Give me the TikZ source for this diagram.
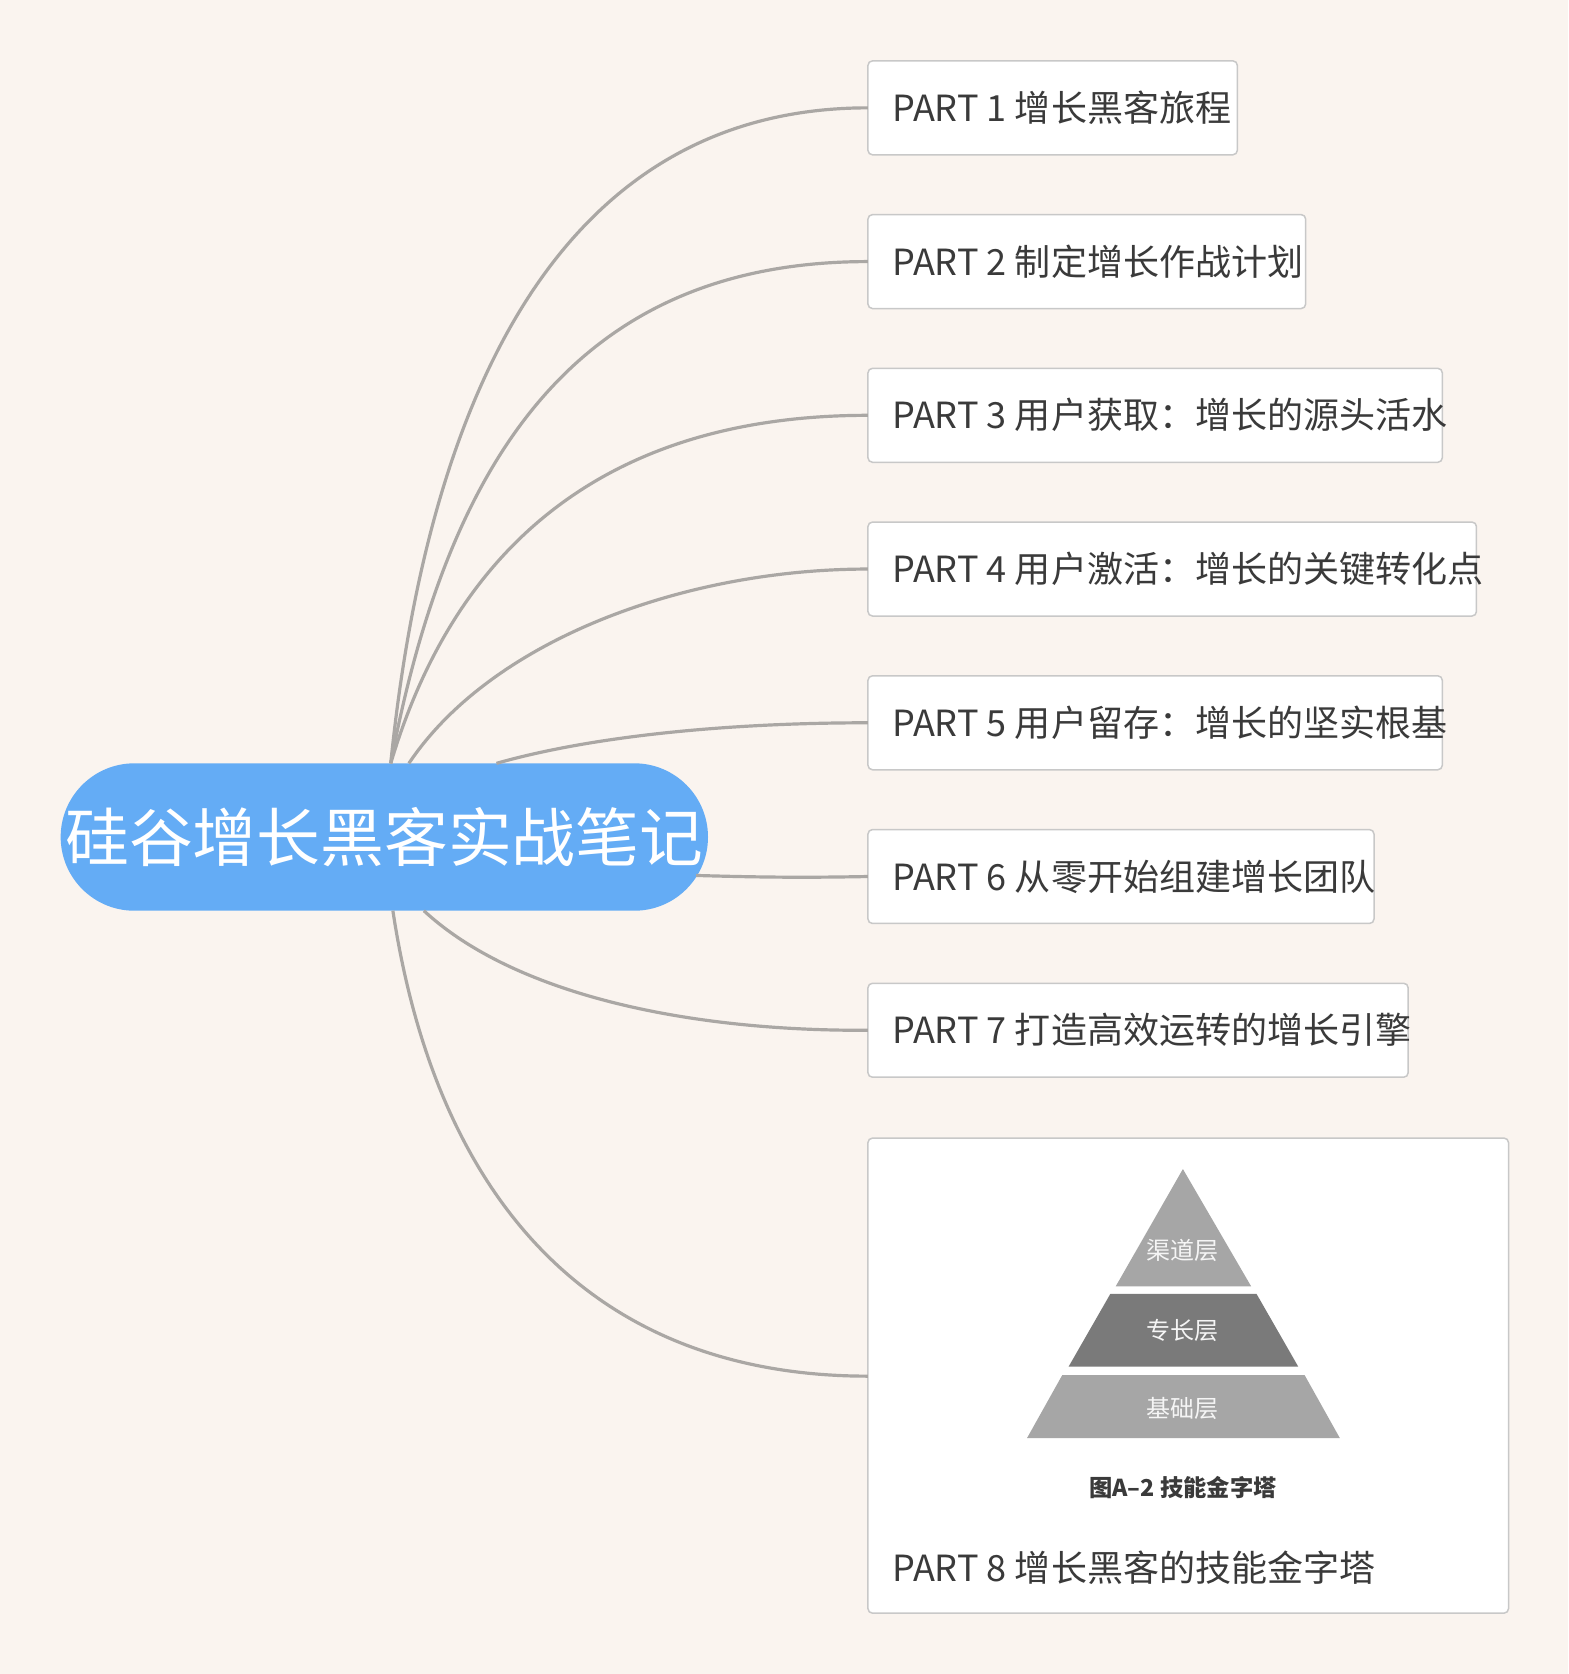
\documentclass[tikz,border=0pt]{standalone}
\usepackage{fontspec}
\setmainfont{Noto Sans CJK SC}
\definecolor{bg}{HTML}{FAF4EF}
\definecolor{hub}{HTML}{64ACF5}
\definecolor{ln}{HTML}{AAA7A4}
\definecolor{bd}{HTML}{C8C8C8}
\definecolor{tx}{HTML}{3A3A3A}
\tikzset{x=0.01cm,y=-0.01cm,
 partbox/.style={draw=bd,line width=0.4pt,fill=white,rounded corners=1.2pt,anchor=north west},
 parttext/.style={anchor=west,text=tx,font=\fontsize{9.6pt}{11pt}\selectfont,inner sep=0pt},
 conn/.style={draw=ln,line width=0.85pt}}
\begin{document}
\begin{tikzpicture}
\fill[bg] (0,0) rectangle (1469,1568);
\useasboundingbox (0,0) rectangle (1469,1568);
\node[fill=hub,rounded corners=0.69cm,minimum width=6.06cm,minimum height=1.38cm,inner sep=0pt,text=white,font=\fontsize{17pt}{20pt}\selectfont] (hub) at (360,784) {硅谷增长黑客实战笔记};
\newcommand\pbox[4]{\path[partbox] (813,#2) rectangle (#3,#2+88);
 \coordinate (#1) at (813,#2+44);
 \node[parttext] at (835,#2+44) {#4};}
\pbox{p1}{57}{1159}{PART 1 增长黑客旅程}
\pbox{p2}{201}{1223}{PART 2 制定增长作战计划}
\pbox{p3}{345}{1351}{PART 3 用户获取：增长的源头活水}
\pbox{p4}{489}{1383}{PART 4 用户激活：增长的关键转化点}
\pbox{p5}{633}{1351}{PART 5 用户留存：增长的坚实根基}
\pbox{p6}{777}{1287}{PART 6 从零开始组建增长团队}
\pbox{p7}{921}{1319}{PART 7 打造高效运转的增长引擎}
\path[partbox] (813,1066) rectangle (1413,1511);
\coordinate (p8) at (813,1289);
\node[parttext] (t8) at (835,1468) {PART 8 增长黑客的技能金字塔};
% pyramid
\fill[white] (960,1090) rectangle (1256,1352);
\fill[gray!70] (1108,1095) -- (1172,1205) -- (1045,1205) -- cycle;
\fill[gray!100!black!0,fill={rgb,255:red,122;green,122;blue,122}] (1040,1212) -- (1177,1212) -- (1216,1280) -- (1001,1280) -- cycle;
\fill[gray!70] (995,1288) -- (1222,1288) -- (1255,1347) -- (962,1347) -- cycle;
\node[text=white!92!gray,font=\fontsize{6.4pt}{7pt}\selectfont] (l1) at (1108,1171) {渠道层};
\node[text=white!92!gray,font=\fontsize{6.4pt}{7pt}\selectfont] (l2) at (1108,1246) {专长层};
\node[text=white!92!gray,font=\fontsize{6.4pt}{7pt}\selectfont] (l3) at (1108,1319) {基础层};
\node[text=tx,font=\bfseries\fontsize{6.2pt}{7pt}\selectfont] (cap) at (1108,1393) {图A–2 技能金字塔};
% connectors
\coordinate (s1) at (366,715);
\coordinate (s4) at (383,715);
\coordinate (s5) at (465,715);
\coordinate (s6) at (652,820);
\coordinate (s7) at (397,853);
\coordinate (s8) at (368,853);
\draw[conn] (s1) .. controls (400,380) and (520,101) .. (p1);
\draw[conn] (s1) .. controls (420,430) and (540,245) .. (p2);
\draw[conn] (s1) .. controls (430,500) and (580,389) .. (p3);
\draw[conn] (s4) .. controls (460,600) and (640,533) .. (p4);
\draw[conn] (s5) .. controls (560,688) and (690,677) .. (p5);
\draw[conn] (s6) .. controls (720,822) and (760,822) .. (p6);
\draw[conn] (s7) .. controls (480,930) and (640,966) .. (p7);
\draw[conn] (s8) .. controls (410,1130) and (560,1289) .. (p8);
\end{tikzpicture}
\end{document}
